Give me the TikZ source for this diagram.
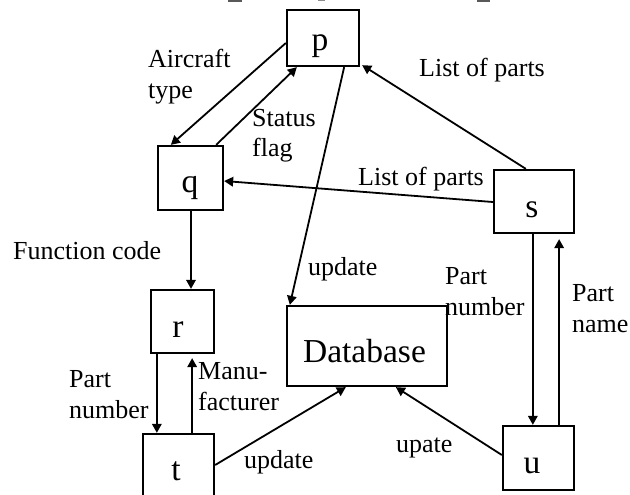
\documentclass[tikz,border=0pt]{standalone}
\usepackage{fontspec}
\setmainfont{Liberation Serif}
\usetikzlibrary{arrows.meta}
\tikzset{
  box/.style={draw, line width=2.3pt, inner sep=0pt},
  boxtext/.style={anchor=base, inner sep=0pt, font=\fontsize{33.5}{38}\selectfont},
  lbl/.style={anchor=base west, inner sep=0pt, align=left,
    font=\fontsize{26}{31}\selectfont},
  flow/.style={line width=1.8pt, -{Triangle[length=9pt,width=9.5pt]}},
}
\begin{document}
\begin{tikzpicture}[x=1pt, y=-1pt]
\useasboundingbox (0,0) rectangle (630,495);
\clip (0,0) rectangle (630,495);

% remnants of the heading above the picture
\fill[black!65] (228,0) rectangle (242,1.8);
\fill[black!45] (318,0) rectangle (325,1.5);
\fill[black!65] (477,0) rectangle (490,1.8);

% processes and store
\node[box, minimum width=72pt, minimum height=56pt] (p) at (323,38) {};
\node[box, minimum width=65pt, minimum height=64pt] (q) at (190.5,178) {};
\node[box, minimum width=63pt, minimum height=63pt] (r) at (182.5,321.5) {};
\node[box, minimum width=71pt, minimum height=66pt] (t) at (178.5,467) {};
\node[box, minimum width=80pt, minimum height=63pt] (s) at (534,201.5) {};
\node[box, minimum width=160pt, minimum height=80pt] (db) at (367,346) {};
\node[box, minimum width=71pt, minimum height=64pt] (u) at (538.5,458) {};

\node[boxtext] (pt) at (320,51) {p};
\node[boxtext] (qt) at (190,193) {q};
\node[boxtext] (rt) at (178,337) {r};
\node[boxtext] (tt) at (176,480) {t};
\node[boxtext] (st) at (532,217) {s};
\node[boxtext] (dbt) at (364.5,362) {Database};
\node[boxtext] (ut) at (532,473) {u};

% data flows
\draw[flow] ([yshift=-5pt]p.west) -- ([xshift=14pt]q.north west);
\draw[flow] ([xshift=-8pt]q.north east) -- ([xshift=11pt]p.south west);
\draw[flow] ([xshift=-16pt]p.south east) -- ([xshift=4pt]db.north west);
\draw[flow] ([xshift=33pt]s.north west) -- ([xshift=2pt,yshift=2pt]p.south east);
\draw[flow] ([yshift=-0.5pt]s.west) -- ([yshift=-3pt]q.east);
\draw[flow] ([xshift=0.5pt]q.south) -- ([xshift=0.5pt]q.south |- r.north);
\draw[flow] ([xshift=7pt]r.south west) -- ([xshift=7pt]r.south west |- t.north);
\draw[flow, shorten >=4pt] ([xshift=-23pt]t.north east) -- ([xshift=-23pt]t.north east |- r.south);
\draw[flow] ([yshift=2pt]t.east) -- ([xshift=60pt]db.south west);
\draw[flow] ([yshift=3pt]u.west) -- ([xshift=110pt]db.south west);
\draw[flow] ([xshift=40pt]s.south west) -- ([xshift=40pt]s.south west |- u.north);
\draw[flow, shorten >=5pt] ([xshift=-16pt]u.north east) -- ([xshift=-16pt]u.north east |- s.south);

% flow labels (multi-line labels sit on the baseline of their last line)
\node[lbl] (l1) at (148,99) {Aircraft\\type};
\node[lbl] (l2) at (252,157) {Status\\flag};
\node[lbl] (l3) at (419,77) {List of parts};
\node[lbl] (l4) at (358,185) {List of parts};
\node[lbl] (l5) at (13,259) {Function code};
\node[lbl] (l6) at (308,275) {update};
\node[lbl] (l7) at (445,315) {Part\\number};
\node[lbl] (l8) at (572,332) {Part\\name};
\node[lbl] (l9) at (69,418) {Part\\number};
\node[lbl] (l10) at (198,410) {Manu-\\facturer};
\node[lbl] (l11) at (244,468) {update};
\node[lbl] (l12) at (396,452) {upate};
\end{tikzpicture}
\end{document}
